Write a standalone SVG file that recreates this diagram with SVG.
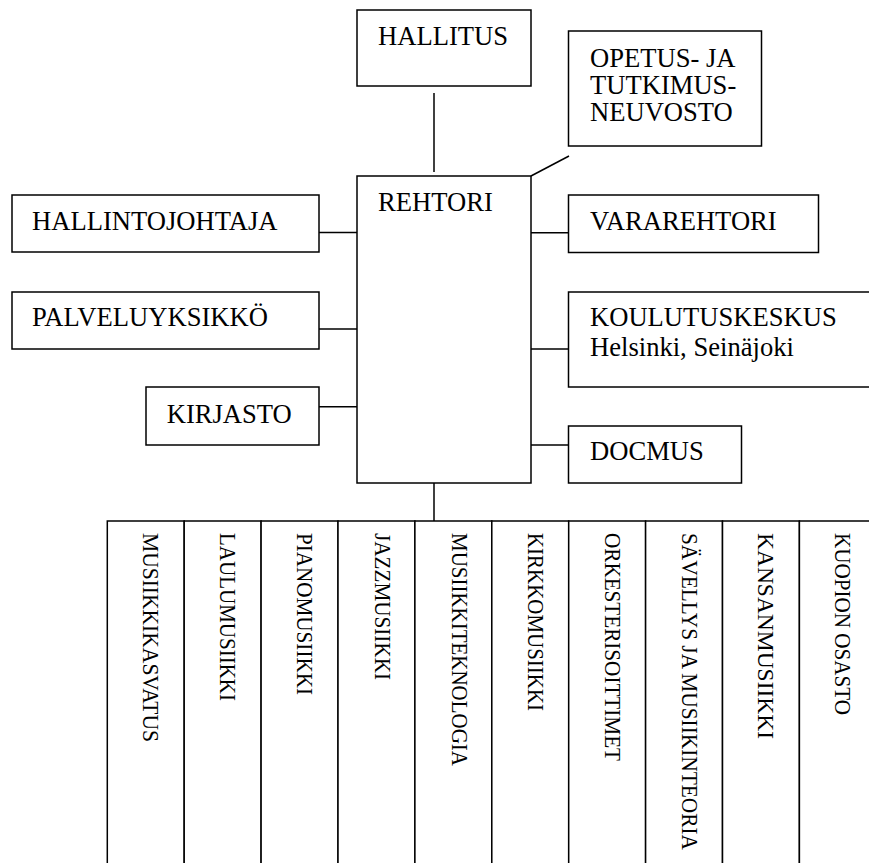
<svg xmlns="http://www.w3.org/2000/svg" width="869" height="863" viewBox="0 0 869 863">
<style>
.box{fill:#fff;stroke:#000;stroke-width:1.5}
.ln{stroke:#000;stroke-width:1.5;fill:none}
.t{font-family:"Liberation Serif","Times New Roman",serif;font-size:26.6px;fill:#000}
.v{font-family:"Liberation Serif","Times New Roman",serif;font-size:24px;fill:#000}
</style>
<rect width="869" height="863" fill="#fff"/>
<g id="connectors">
<line class="ln" x1="434" y1="93" x2="434" y2="172"/>
<line class="ln" x1="531" y1="176" x2="569" y2="156"/>
<line class="ln" x1="319" y1="232.5" x2="357" y2="232.5"/>
<line class="ln" x1="319" y1="329" x2="357" y2="329"/>
<line class="ln" x1="319" y1="406.7" x2="357" y2="406.7"/>
<line class="ln" x1="531" y1="232.7" x2="568.5" y2="232.7"/>
<line class="ln" x1="531" y1="349" x2="568.5" y2="349"/>
<line class="ln" x1="531" y1="445" x2="568.5" y2="445"/>
<line class="ln" x1="434" y1="483" x2="434" y2="521"/>
</g>
<g id="hallitus"><rect class="box" x="357" y="10" width="174" height="76"/><text class="t" x="378" y="45">HALLITUS</text></g>
<g id="opetus"><rect class="box" x="568.5" y="31" width="193" height="115"/><text class="t" x="590" y="66.7">OPETUS- JA</text><text class="t" x="590" y="93.5">TUTKIMUS-</text><text class="t" x="590" y="120.5">NEUVOSTO</text></g>
<g id="rehtori"><rect class="box" x="357" y="176" width="174" height="307"/><text class="t" x="378" y="211">REHTORI</text></g>
<g id="hallintojohtaja"><rect class="box" x="12" y="195" width="307" height="57"/><text class="t" x="32" y="230">HALLINTOJOHTAJA</text></g>
<g id="palveluyksikko"><rect class="box" x="12" y="292" width="307" height="57"/><text class="t" x="32" y="326">PALVELUYKSIKKÖ</text></g>
<g id="kirjasto"><rect class="box" x="146" y="387" width="173" height="58"/><text class="t" x="166.7" y="422.7">KIRJASTO</text></g>
<g id="vararehtori"><rect class="box" x="568.5" y="195" width="250" height="57.5"/><text class="t" x="590" y="230">VARAREHTORI</text></g>
<g id="koulutuskeskus"><rect class="box" x="568.5" y="292" width="320" height="95"/><text class="t" x="590" y="325.7">KOULUTUSKESKUS</text><text class="t" x="590" y="356">Helsinki, Seinäjoki</text></g>
<g id="docmus"><rect class="box" x="568.5" y="426" width="173" height="57"/><text class="t" x="590" y="460">DOCMUS</text></g>
<g id="col1"><rect class="box" x="107.3" y="521" width="76.9" height="360"/><text class="v" x="143.3" y="533" transform="rotate(90 143.3 533)" textLength="209" lengthAdjust="spacingAndGlyphs">MUSIIKKIKASVATUS</text></g>
<g id="col2"><rect class="box" x="184.2" y="521" width="76.9" height="360"/><text class="v" x="220.2" y="533" transform="rotate(90 220.2 533)" textLength="168" lengthAdjust="spacingAndGlyphs">LAULUMUSIIKKI</text></g>
<g id="col3"><rect class="box" x="261.1" y="521" width="76.9" height="360"/><text class="v" x="297.4" y="533" transform="rotate(90 297.4 533)" textLength="162" lengthAdjust="spacingAndGlyphs">PIANOMUSIIKKI</text></g>
<g id="col4"><rect class="box" x="338" y="521" width="76.9" height="360"/><text class="v" x="374.5" y="533" transform="rotate(90 374.5 533)" textLength="147" lengthAdjust="spacingAndGlyphs">JAZZMUSIIKKI</text></g>
<g id="col5"><rect class="box" x="414.9" y="521" width="76.9" height="360"/><text class="v" x="451.5" y="533" transform="rotate(90 451.5 533)" textLength="233" lengthAdjust="spacingAndGlyphs">MUSIIKKITEKNOLOGIA</text></g>
<g id="col6"><rect class="box" x="491.8" y="521" width="76.9" height="360"/><text class="v" x="528.3" y="533" transform="rotate(90 528.3 533)" textLength="178" lengthAdjust="spacingAndGlyphs">KIRKKOMUSIIKKI</text></g>
<g id="col7"><rect class="box" x="568.7" y="521" width="76.9" height="360"/><text class="v" x="604.5" y="533" transform="rotate(90 604.5 533)" textLength="228" lengthAdjust="spacingAndGlyphs">ORKESTERISOITTIMET</text></g>
<g id="col8"><rect class="box" x="645.6" y="521" width="76.9" height="360"/><text class="v" x="681.7" y="533" transform="rotate(90 681.7 533)" textLength="317" lengthAdjust="spacingAndGlyphs">SÄVELLYS JA MUSIIKINTEORIA</text></g>
<g id="col9"><rect class="box" x="722.5" y="521" width="76.9" height="360"/><text class="v" x="758.3" y="533" transform="rotate(90 758.3 533)" textLength="206" lengthAdjust="spacingAndGlyphs">KANSANMUSIIKKI</text></g>
<g id="col10"><rect class="box" x="799.4" y="521" width="76.9" height="360"/><text class="v" x="835" y="533" transform="rotate(90 835 533)" textLength="182" lengthAdjust="spacingAndGlyphs">KUOPION OSASTO</text></g>
</svg>
